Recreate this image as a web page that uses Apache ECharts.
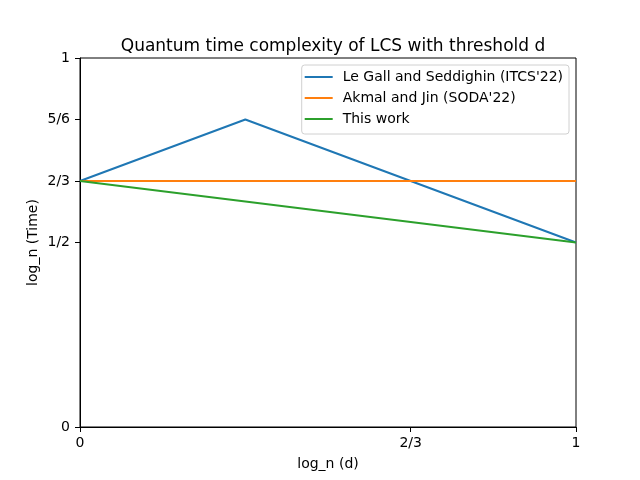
<!DOCTYPE html>
<html>
<head>
<meta charset="utf-8">
<script src="https://cdn.jsdelivr.net/npm/echarts@6/dist/echarts.min.js"></script>
<style>html,body{margin:0;padding:0;background:#fff}#c{width:640px;height:480px}</style>
</head>
<body>
<div id="c"></div>
<script>
const seriesNames = ["Le Gall and Seddighin (ITCS'22)", "Akmal and Jin (SODA'22)", "This work"];
const legallX = [0, 1/3, 2/3, 1];
const legallY = [2/3, 5/6, 2/3, 1/2];
const akmalX = [0, 1];
const akmalY = [2/3, 2/3];
const thisX = [0, 1];
const thisY = [2/3, 1/2];
const xTickValues = [0, 2/3, 1];
const xTickLabels = ['0', '2/3', '1'];
const yTickValues = [0, 1/2, 2/3, 5/6, 1];
const yTickLabels = ['0', '1/2', '2/3', '5/6', '1'];
const colors = ['#1f77b4', '#ff7f0e', '#2ca02c'];

function pairs(xs, ys) { return xs.map((x, i) => [x, ys[i]]); }
function labelFor(vals, labs) {
  return function (v) {
    let best = 0, bd = Infinity;
    vals.forEach((t, i) => { const d = Math.abs(t - v); if (d < bd) { bd = d; best = i; } });
    return bd < 1e-6 ? labs[best] : '';
  };
}
const font = 'DejaVu Sans';
const chart = echarts.init(document.getElementById('c'), null, {renderer: 'canvas'});
chart.setOption({
  animation: false,
  backgroundColor: '#fff',
  color: colors,
  title: {
    text: 'Quantum time complexity of LCS with threshold d',
    left: 328, top: 33, textAlign: 'center',
    textStyle: {fontFamily: font, fontSize: 17, fontWeight: 'normal', color: '#000'}
  },
  grid: {left: 80, right: 64, top: 58, bottom: 53, show: true, borderColor: '#000', borderWidth: 1, backgroundColor: 'transparent'},
  legend: {
    orient: 'vertical', right: 71, top: 65,
    icon: 'rect',
    itemWidth: 28, itemHeight: 2, itemGap: 7,
    padding: [5, 6, 8, 3],
    borderColor: '#d0d0d0', borderWidth: 1, borderRadius: 3,
    backgroundColor: 'rgba(255,255,255,0.8)',
    textStyle: {fontFamily: font, fontSize: 14, color: '#000', padding: [0, 0, 0, 5]},
    data: seriesNames
  },
  xAxis: {
    type: 'value', min: 0, max: 1,
    name: 'log_n (d)', nameLocation: 'middle', nameGap: 30,
    nameMoveOverlap: false,
    nameTextStyle: {fontFamily: font, fontSize: 14, color: '#000'},
    axisLine: {show: true, lineStyle: {color: '#000', width: 1}},
    axisTick: {show: true, inside: false, length: 5, customValues: xTickValues, lineStyle: {color: '#000', width: 1}},
    axisLabel: {customValues: xTickValues, formatter: labelFor(xTickValues, xTickLabels), fontFamily: font, fontSize: 14, color: '#000', margin: 9},
    splitLine: {show: false}
  },
  yAxis: {
    type: 'value', min: 0, max: 1,
    name: 'log_n (Time)', nameLocation: 'middle', nameGap: 40, nameRotate: 90,
    nameMoveOverlap: false,
    nameTextStyle: {fontFamily: font, fontSize: 14, color: '#000'},
    axisLine: {show: true, lineStyle: {color: '#000', width: 1}},
    axisTick: {show: true, inside: false, length: 5, customValues: yTickValues, lineStyle: {color: '#000', width: 1}},
    axisLabel: {customValues: yTickValues, formatter: labelFor(yTickValues, yTickLabels), fontFamily: font, fontSize: 14, color: '#000', margin: 10},
    splitLine: {show: false}
  },
  series: [
    {name: seriesNames[0], type: 'line', data: pairs(legallX, legallY), symbol: 'none', lineStyle: {width: 2, color: colors[0]}, z: 3},
    {name: seriesNames[1], type: 'line', data: pairs(akmalX, akmalY), symbol: 'none', lineStyle: {width: 2, color: colors[1]}, z: 4},
    {name: seriesNames[2], type: 'line', data: pairs(thisX, thisY), symbol: 'none', lineStyle: {width: 2, color: colors[2]}, z: 5}
  ]
});
</script>
</body>
</html>
